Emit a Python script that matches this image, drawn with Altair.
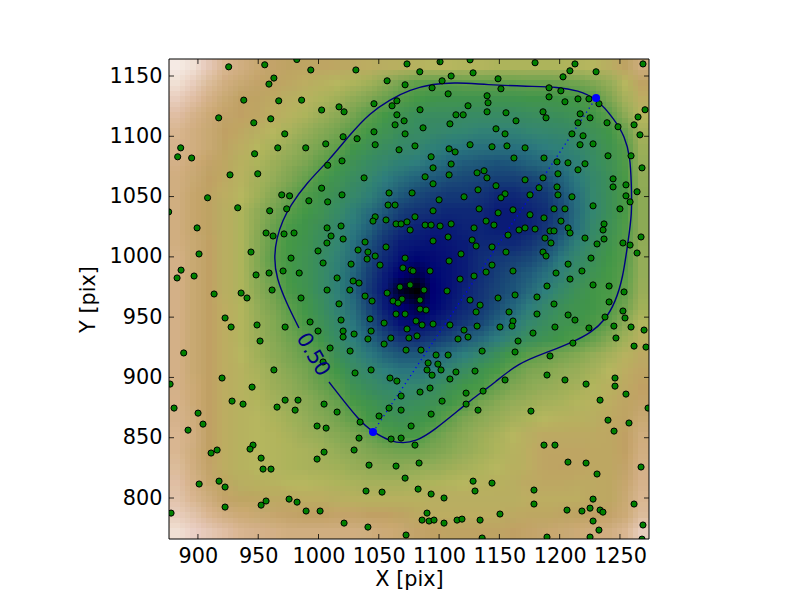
import altair as alt
import pandas as pd

X_MIN, X_MAX = 876.0, 1274.1
Y_MIN, Y_MAX = 766.0, 1164.1
x_ticks = [900, 950, 1000, 1050, 1100, 1150, 1200, 1250]
y_ticks = [800, 850, 900, 950, 1000, 1050, 1100, 1150]

# Normalised density (percent); first row is the top of the plot
density_rows = [
[98,96,92,88,85,82,80,78,77,77,76,75,74,73,72,71,70,70,69,69,68,68,68,68,68,69,70,73,78,84],
[96,93,89,85,82,80,78,76,74,72,70,68,65,60,55,51,50,50,51,51,51,51,52,52,53,54,57,62,70,78],
[93,90,86,82,79,78,75,73,71,68,65,61,57,53,49,46,44,43,43,43,43,43,44,44,45,46,49,56,66,74],
[90,87,83,80,79,77,74,71,68,64,60,55,50,46,42,39,38,38,37,37,37,37,38,39,40,42,45,50,60,70],
[88,85,82,79,76,73,70,67,63,59,55,50,46,42,39,37,35,33,32,31,31,31,32,33,35,37,41,45,52,66],
[87,85,82,78,74,70,67,63,59,55,51,45,41,38,35,33,30,27,26,25,25,25,26,28,30,33,38,43,49,64],
[86,83,80,76,72,68,64,60,56,51,46,41,37,33,30,28,25,22,20,19,18,19,21,23,26,30,36,41,48,62],
[85,82,79,75,71,66,62,57,52,47,42,38,33,28,24,21,19,17,16,15,14,14,15,17,21,27,34,40,47,61],
[85,81,78,74,70,65,59,53,48,44,40,35,30,24,19,16,14,13,13,12,10,10,11,13,18,25,33,40,47,60],
[85,81,78,73,68,61,55,50,46,42,36,30,24,19,14,12,11,10,10,10,8,8,9,11,16,24,32,40,47,60],
[85,81,78,73,68,60,53,47,44,40,34,27,21,15,11,9,8,8,9,9,8,8,9,12,17,25,34,41,48,60],
[85,82,79,73,68,59,51,46,43,38,32,25,18,12,8,7,6,7,8,10,10,10,12,15,21,30,37,43,49,61],
[86,82,79,73,68,58,50,46,42,37,31,24,16,10,6,4,5,6,8,11,13,14,16,20,27,34,40,45,49,62],
[86,82,79,73,68,59,52,46,42,37,30,22,14,8,3,2,4,6,8,11,14,17,20,25,31,37,42,46,50,62],
[86,82,79,73,68,60,54,47,43,37,30,22,13,7,1,0,3,6,9,12,15,18,23,29,35,41,45,47,51,63],
[86,82,79,74,69,62,56,50,45,39,31,24,15,8,3,2,4,7,10,13,17,22,28,34,40,43,45,48,54,65],
[86,82,79,74,69,63,58,52,47,41,34,26,18,11,6,5,7,10,13,16,21,27,33,38,42,44,47,51,60,69],
[86,82,79,74,69,64,59,54,50,44,36,29,22,16,12,11,13,16,20,23,28,34,39,42,45,48,52,58,65,72],
[86,82,79,74,70,65,60,56,52,49,40,33,27,22,19,19,21,25,29,34,40,46,50,52,55,58,62,66,71,75],
[86,82,79,74,71,67,63,59,55,50,45,38,33,29,26,26,29,33,38,43,47,52,56,58,61,63,66,70,74,77],
[86,83,79,74,71,68,64,61,57,53,49,42,38,34,32,33,37,41,45,47,53,57,60,62,64,66,69,72,75,79],
[87,83,79,74,71,69,66,63,60,56,52,47,43,39,37,39,41,45,49,55,59,62,64,66,67,69,71,74,77,80],
[87,84,79,74,71,70,68,65,62,59,55,51,46,43,41,43,46,51,56,60,63,66,68,70,71,72,73,75,78,82],
[88,85,79,74,71,70,69,67,64,62,59,56,53,48,46,47,52,56,60,64,67,70,73,75,75,75,75,76,79,84],
[88,84,79,74,71,70,69,68,67,65,62,60,57,55,54,54,56,59,62,65,68,71,74,77,77,77,76,76,79,85],
[89,85,80,74,71,70,69,68,67,66,65,63,61,60,60,61,62,64,66,68,70,72,74,77,78,77,76,76,80,86],
[90,86,81,76,73,72,71,70,70,69,68,67,66,66,66,67,68,69,70,71,72,73,75,76,76,75,75,76,81,87],
[91,88,84,80,77,76,75,75,74,74,73,72,72,72,72,72,73,73,73,73,73,73,74,74,74,74,75,76,82,88],
[93,91,88,85,83,82,81,80,79,79,80,80,79,79,78,75,74,74,74,74,74,75,76,76,77,78,79,80,83,89],
[96,94,92,90,88,87,86,85,85,85,85,85,84,83,82,80,79,78,78,78,78,79,80,81,82,83,84,85,88,93],
]

green_points = [
(925.5,1157.6),(955.4,1159.3),(982,1163.7),(993.6,1155),(963,1148.3),(958.9,1143.3),(938,1130),(967,1129.4),
(986,1130),(1002.6,1121.8),(917.2,1115.3),(946.3,1111.2),(960.4,1114.5),(972,1102),(885.7,1090.4),(966.2,1090.4),
(989.4,1090.4),(1006,1093.7),(883.2,1083),(894.8,1082),(947,1085.5),(1007.6,1076),(926.6,1068),(949.6,1068.9),
(1002.6,1057),(969.5,1051.4),(976,1050.6),(908,1049),(992,1046.5),(1007.6,1045.6),(933,1040.7),(959.5,1038.2),
(973.6,1039.8),(875.7,1037.3),
(1031,1155),(1073.4,1160),(1100.8,1161.8),(1125.7,1163.4),(1084,1153.5),(1128.2,1152.6),(1110,1150),(1056.9,1146),
(1102.5,1146),(1071.8,1142.7),(1094.2,1140.2),(1107.5,1135.2),(1139.8,1133.6),(1140.6,1127.8),(1065,1129.4),(1046,1127),
(1061,1125.3),(1017,1124.4),(1021.2,1120.3),(1084.2,1122),(1124,1125.3),(1139.8,1120.3),(1114,1117.8),(1120,1117.8),
(1065,1117.8),(1071,1112.8),(1063.5,1109.5),(1109,1110.3),(1086.7,1107),(1046,1103.7),(1071.8,1102),(1020.4,1099.6),
(1032,1098),(1047,1093),(1125.7,1093),(1080,1092),(1066.8,1088.8),(1108.3,1089.6),(1113.3,1087),(1093.4,1083),
(1019.5,1079.6),(1110,1077),(1095,1073.8),(1131.5,1069.7),(1137.3,1071.4),(1108.3,1068),(1088.4,1066.4),(1037.8,1065.5),
(1095,1060.6),(1132.3,1055.6),(1058.5,1053),(1077.6,1053),(1019.5,1051.4),(1120.7,1049.8),(1100,1047.3),(1057.7,1043),
(1063.5,1043),(1133.2,1039.8),(1095,1038.2),(1047,1033.2),(1080,1033.2),
(1179.6,1161),(1212.7,1160),(1269.1,1160),(1208.5,1154.3),(1230.2,1153.5),(1202.8,1149.3),(1148.9,1147.7),(1151.3,1139.4),
(1191.2,1140.2),(1201,1137.7),(1191.2,1132.7),(1204.4,1128.6),(1215.2,1131),(1224.3,1131),(1232.6,1127),(1270.8,1122),
(1155.5,1119.5),(1186.2,1120.3),(1217,1118.6),(1188.7,1115.3),(1225.2,1115.3),(1265,1116),(1163.8,1112.8),(1215.2,1111.2),
(1239.3,1111.2),(1261.7,1109.5),(1248.4,1107.9),(1147.2,1106.2),(1154.7,1102),(1210.2,1102),(1219.4,1100.4),(1266.6,1101.2),
(1143.9,1091.3),(1156.3,1092),(1171.3,1090.4),(1216.9,1093),(1227.7,1093.7),(1162.1,1082),(1187,1082),(1240.1,1083.8),
(1259.2,1083.8),(1197.8,1078.8),(1206.9,1078),(1221,1077.2),(1268.3,1073.8),(1215.2,1072.2),(1198.6,1068.9),(1139.7,1065.5),
(1171.3,1063.9),(1186.2,1065.5),(1244.3,1064.7),(1244.3,1058),(1255,1059.7),(1147.2,1059),(1197.8,1058),(1182.9,1057.3),
(1264.2,1054),(1154.7,1052.3),(1175.4,1051.4),(1198.6,1051.4),(1210.2,1049.8),(1255,1050.6),(1151.3,1049),(1258.4,1045.6),
(1227.7,1042.3),(1250,1039.8),(1195.3,1039.8),(1204.4,1039.8),(1161.3,1039),(1149,1036.5),(1175.4,1034.9),(1187,1032.3),
(899.3,1024),(956.5,1019.8),(962.3,1017.3),(971.4,1019),(979.7,1019.8),(1007.1,1024),(1010.4,1017.3),(999.6,1004.9),
(900.9,1002.4),(944,1004),(977.2,999),(1003.8,994.9),(886,989),(882.7,982.5),(896.8,984.1),(948.2,985),
(959,986.6),(970.6,988.3),(984,986.6),(913.4,969.2),(935.8,970),(940.7,965.9),(961.5,972.5),(985.5,965.9),
(1007.1,972.5),(922.5,949.3),(927.5,941.8),(949,943.5),(972.3,941.8),(993,946),(999.6,938.5),(951.5,930.2),
(888.2,920.3),(1009.6,924.4),(1003.8,912.8),(963,906.2),(920,899.5),(876.9,894.5),
(1045.2,1029.7),(1056,1030.6),(1064.3,1027.3),(1068.5,1027.3),(1073.4,1029),(1088.4,1026.4),(1093.4,1026.4),(1100.8,1025.6),
(1110,1027.3),(1139,1029.7),(1129,1024),(1018.7,1025.6),(1076,1022.3),(1020.4,1014.8),(1095,1013.2),(1107.5,1016.5),
(1127.4,1014),(1007,1011.5),(1038.6,1012.3),(1130.7,1009),(1056,1008.2),(1032.8,1005.7),(1041,1004),(1047,1000.7),
(1118.2,1002.4),(1040.3,998.2),(1071.8,999),(1027,994),(1051,993.2),(1108.3,996.6),(1070,990.8),(1076.8,989),
(1078.4,988.3),(1092.5,988.3),(1139,987.4),(1129,984.1),(1015.4,982.5),(1117.4,981.6),(1028.7,980),(1033.6,978.3),
(1076,976.7),(1067.6,975),(1026,972.5),(1087.5,972.5),(1106.6,971.7),(1056.9,970),(1038.6,967.5),(1069.3,965),
(1084.2,964.2),(1125.7,964.2),(1044.4,963.4),(1061.8,963.4),(1066,961.7),(1017,961),(1134,960),(1084.2,956.7),
(1089.2,955.9),(1130.7,954.3),(1064.3,952.6),(1071.8,952.6),(1018.7,947.6),(1042.8,948.5),(1080.9,946.8),(1054.4,945.1),
(1085.9,943.5),(1095,944.3),(1109,943.5),(1131.5,942.6),(1073.4,940.2),(1120.7,939.3),(1020.4,938.5),(1043.6,938.5),
(1029.5,936),(1020.4,933.5),(1081.7,934.4),(1041,931.9),(1060,932.7),(1075,932.7),(1115.7,931.9),(1124,933.5),
(1054.4,927.7),(1026.2,921.9),(1072.6,922.7),(1085,922.7),(1135.7,921.9),(1097.5,918.6),(1107.5,918.6),(1090.9,912),
(1099,911.1),(1090,906.2),(1101.6,906.2),(1043.6,906.2),(1129.8,905.3),(1030.3,903.7),(1114,904.5),(1094.2,901.9),
(1059.3,899.5),(1065,897),(1109,898.7),
(1145.5,1026.4),(1201.1,1029.7),(1236.8,1027.3),(1166.3,1022.3),(1171.3,1024),(1179.6,1023.1),(1192,1021.5),(1195.3,1021.5),
(1207,1024),(1236,1022.3),(1208.6,1019.8),(1157.2,1018.1),(1187.8,1015.6),(1221,1015.6),(1236.8,1014.8),(1267.5,1016.5),
(1192.8,1011.5),(1231,1010.7),(1252.5,1011.5),(1258.4,1009.8),(1143.9,1008.2),(1155.5,1004),(1186.2,1004),(1188.7,1000.7),
(1264.2,1003.2),(1226,999),(1143.9,993.2),(1207,994),(1218.5,988.3),(1161.3,988.3),(1197,986.6),(1208.6,981.6),
(1189.5,975.8),(1227.7,976.7),(1241,975.8),(1253.4,970.9),(1148.9,965.9),(1163,968.4),(1181.2,966.7),(1241,962.6),
(1195.3,960.9),(1158,954.3),(1181.2,952.6),(1252.5,955.1),(1207,951.8),(1212.7,947.6),(1237.6,950.1),(1254.2,949.3),
(1161.3,946.8),(1150.5,941.8),(1160.5,942.6),(1196.1,941.8),(1224.3,941),(1245,942.6),(1259.2,941.8),(1270,939.3),
(1177.9,936.8),(1246.7,932.7),(1165.5,930.2),(1211,928.5),(1261.7,926),(1271.6,925.2),(1163,921.1),(1192,917.8),
(1189.5,902),(1154.7,897.9),(1204.4,897.9),(1245.9,899.5),(1221.9,894.5),
(944.9,892),(928.3,880.4),(937.4,877.9),(972.3,881.2),(983,881.2),(965.6,875.4),(980.6,872.9),(1004.6,877.9),
(880.2,874.6),(900.1,870.4),(904.2,861.3),(891.8,856.3),(998.8,859.7),(1006.3,858),(945.7,843.9),(915.9,839.8),
(943.2,840.6),(910.9,837.3),(1004.6,838.1),(952.4,833.1),(998.8,832.3),(954,824),(960.6,824),(917.5,814),
(901,811.6),(922.5,809.1),(975.6,799.1),(982.2,796.6),(956.5,797.5),(952.4,794.1),(922.5,792.5),(877.7,787.5),
(989.7,789.2),(1001.3,789.2),
(1092.5,891.2),(1068.5,884.6),(1084.2,887.9),(1122.4,887),(1136.5,888.7),(1102.5,880.4),(1122.4,877.9),(1015.4,871.3),
(1058.5,874.6),(1068.5,872.9),(1132.3,872.9),(1093.4,869.6),(1050.2,868),(1034.5,863),(1076.8,859.7),(1033.6,849.7),
(1060.2,848.9),(1068.5,849.7),(1080,843.9),(1029.5,839.8),(1041.9,827.3),(1064.3,826.5),(1083.4,829),(1071.8,816.5),
(1128.2,814),(1129.8,805.8),(1039.4,805.8),(1052.7,804.9),(1082.6,807.4),(1093.4,803.3),(1104.1,800),(1090,787.5),
(1085.9,781.7),(1091.7,780.9),(1095.8,781.7),(1104.1,779.2),(1114.9,781.7),(1119,782.5),(1134,781.7),(1021.2,779.2),
(1041,775.9),(1072.6,769.3),(1135.7,766.8),
(1245.9,892.8),(1255,886.2),(1233.5,881.2),(1273.3,874.6),(1176.2,872.1),(1240.1,864.6),(1257.5,862.2),(1245.1,855.5),
(1187,843.9),(1196.1,843.9),(1206.9,829.8),(1221.9,829),(1267.5,825.7),(1231,819.9),(1143.9,812.4),(1178.7,806.6),
(1227.7,799.1),(1261.7,795),(1178.7,795),(1225.2,791.6),(1206.1,790),(1218.5,789.2),(1233.5,790),(1235.9,788.3),
(1150.5,786.7),(1227.7,780.9),(1269.1,777.6),(1232.6,773.4),(1189.5,767.6),(1225.2,767.6),(1268.3,765.9),
]

contour_x = [1008.7,1034.2,1045.2,1060.1,1070.1,1080,1095,1122.3,1136.4,1144.7,1165.5,1190.3,1211.1,1226,1238,1246,1252.5,
             1256.7,1260,1259.5,1258.4,1254,1245.7,1230.2,1215.2,1198.6,1173.8,1139.3,1114.4,1095,1075.6,1059,1042.5,
             1025.9,1009.3,990,976.1,970.6,965.1,963.1,965.1,973.4,983.8]
contour_y = [896.2,863.3,854.7,846.7,845.6,846.7,855.2,878,888.7,894.5,912,921,929.5,937,948,962,982.5,
             1012.8,1035,1061.3,1083.3,1099.9,1113.8,1131.8,1138,1140.9,1141.4,1142.8,1144.7,1143.6,1138.6,1130.3,1119.3,
             1101.3,1080.6,1061.3,1041.8,1030.8,1015.6,999.1,982.5,961.7,941]
axis_x = [1045.2, 1230.2]
axis_y = [854.7, 1131.8]
label_x, label_y, label_text = 995.2, 918.8, "0.50"

cmap_stops = [0, .03, .11, .165, .208, .282, .37, .459, .549, .698, .788, .875, .94, 1]
cmap_colors = ["#000000", "#000074", "#133078", "#1c4d7a", "#23627c", "#30807f", "#3b8d64",
               "#459947", "#78a652", "#b7b760", "#c1a365", "#d9b58f", "#ecd2c7", "#fdfbf5"]

n_rows, n_cols = len(density_rows), len(density_rows[0])
dx, dy = (X_MAX - X_MIN) / n_cols, (Y_MAX - Y_MIN) / n_rows
PX = (X_MAX - X_MIN) / 480  # data units per pixel


def cells_at(ox, oy):
    """The typed grid, drawn shifted by (ox, oy) pixels; edge cells reach past the frame and are clipped."""
    rows = []
    for r, row in enumerate(density_rows):
        for c, v in enumerate(row):
            x0 = X_MIN + (c * dx if c else -8 * PX) + ox * PX * (c > 0)
            x1 = X_MIN + (c + 1) * dx + ox * PX if c < n_cols - 1 else X_MAX + 8 * PX
            y0 = Y_MAX - r * dy + oy * PX if r else Y_MAX + 8 * PX
            y1 = Y_MAX - (r + 1) * dy + oy * PX if r < n_rows - 1 else Y_MIN - 8 * PX
            rows.append({"x": x0, "x2": x1, "y": y0, "y2": y1, "v": v / 100})
    return pd.DataFrame(rows)


points = pd.DataFrame(green_points, columns=["x", "y"])
contour = pd.DataFrame({"x": contour_x, "y": contour_y, "i": range(len(contour_x))})
axis_df = pd.DataFrame({"x": axis_x, "y": axis_y})

FONT = "DejaVu Sans"
FS = 20.8
xs = alt.Scale(domain=[X_MIN, X_MAX], nice=False, zero=False)
ys = alt.Scale(domain=[Y_MIN, Y_MAX], nice=False, zero=False)
x_q = alt.X("x:Q", scale=xs, title="X [pix]",
            axis=alt.Axis(values=x_ticks, ticks=False, domain=False, grid=False, labelFont=FONT, labelFontSize=FS,
                          labelColor="black", labelPadding=7, titleFont=FONT, titleFontSize=FS,
                          titleFontWeight="normal", titleColor="black", titlePadding=4, format="d"))
y_q = alt.Y("y:Q", scale=ys, title="Y [pix]",
            axis=alt.Axis(values=y_ticks, ticks=False, domain=False, grid=False, labelFont=FONT, labelFontSize=FS,
                          labelColor="black", labelPadding=7, titleFont=FONT, titleFontSize=FS,
                          titleFontWeight="normal", titleColor="black", titlePadding=11, format="d"))

color = alt.Color("v:Q", legend=None, scale=alt.Scale(domain=cmap_stops, range=cmap_colors, interpolate="rgb"))
heat_layers = []
for oy in (-5, 0, 5):
    for ox in (-5, 0, 5):
        k = len(heat_layers) + 1
        heat_layers.append(
            alt.Chart(cells_at(ox, oy)).mark_rect(strokeWidth=0, opacity=1 / k, clip=True).encode(
                x=x_q, x2="x2:Q", y=y_q, y2="y2:Q", color=color))

dotted = alt.Chart(axis_df).mark_line(color="#0000ff", strokeDash=[1.2, 3.6], strokeWidth=1.3).encode(x=x_q, y=y_q)
line = alt.Chart(contour).mark_line(color="#000080", strokeWidth=1.4, interpolate="basis").encode(
    x=x_q, y=y_q, order="i:Q")
dots = alt.Chart(points).mark_circle(color="#008000", opacity=1, stroke="black", strokeWidth=1, size=38, clip=True).encode(
    x=x_q, y=y_q)
ends = alt.Chart(axis_df).mark_circle(color="#0000ff", opacity=1, size=64).encode(x=x_q, y=y_q)
label = alt.Chart(pd.DataFrame({"x": [label_x], "y": [label_y], "t": [label_text]})).mark_text(
    font=FONT, fontSize=FS, color="#000080", angle=60).encode(x=x_q, y=y_q, text="t:N")

xt = pd.DataFrame({"x": x_ticks})
yt = pd.DataFrame({"y": y_ticks})
TL = 5
ticks = [
    alt.Chart(xt).mark_rule(color="black", strokeWidth=0.8).encode(x=x_q, y=alt.value(480), y2=alt.value(480 - TL)),
    alt.Chart(xt).mark_rule(color="black", strokeWidth=0.8).encode(x=x_q, y=alt.value(0), y2=alt.value(TL)),
    alt.Chart(yt).mark_rule(color="black", strokeWidth=0.8).encode(y=y_q, x=alt.value(0), x2=alt.value(TL)),
    alt.Chart(yt).mark_rule(color="black", strokeWidth=0.8).encode(y=y_q, x=alt.value(480), x2=alt.value(480 - TL)),
]
frame = alt.Chart(pd.DataFrame({"a": [0]})).mark_rect(fill=None, stroke="black", strokeWidth=1).encode(
    x=alt.value(0), x2=alt.value(480), y=alt.value(0), y2=alt.value(480))

chart = alt.layer(*heat_layers, dotted, line, dots, ends, label, *ticks, frame).properties(
    width=480, height=480,
    autosize=alt.AutoSizeParams(type="none"),
    padding={"left": 161, "top": 51, "right": 100, "bottom": 58},
    background="white",
).configure_view(stroke=None)

chart.save("out.html", embed_options={"renderer": "svg", "actions": False})
